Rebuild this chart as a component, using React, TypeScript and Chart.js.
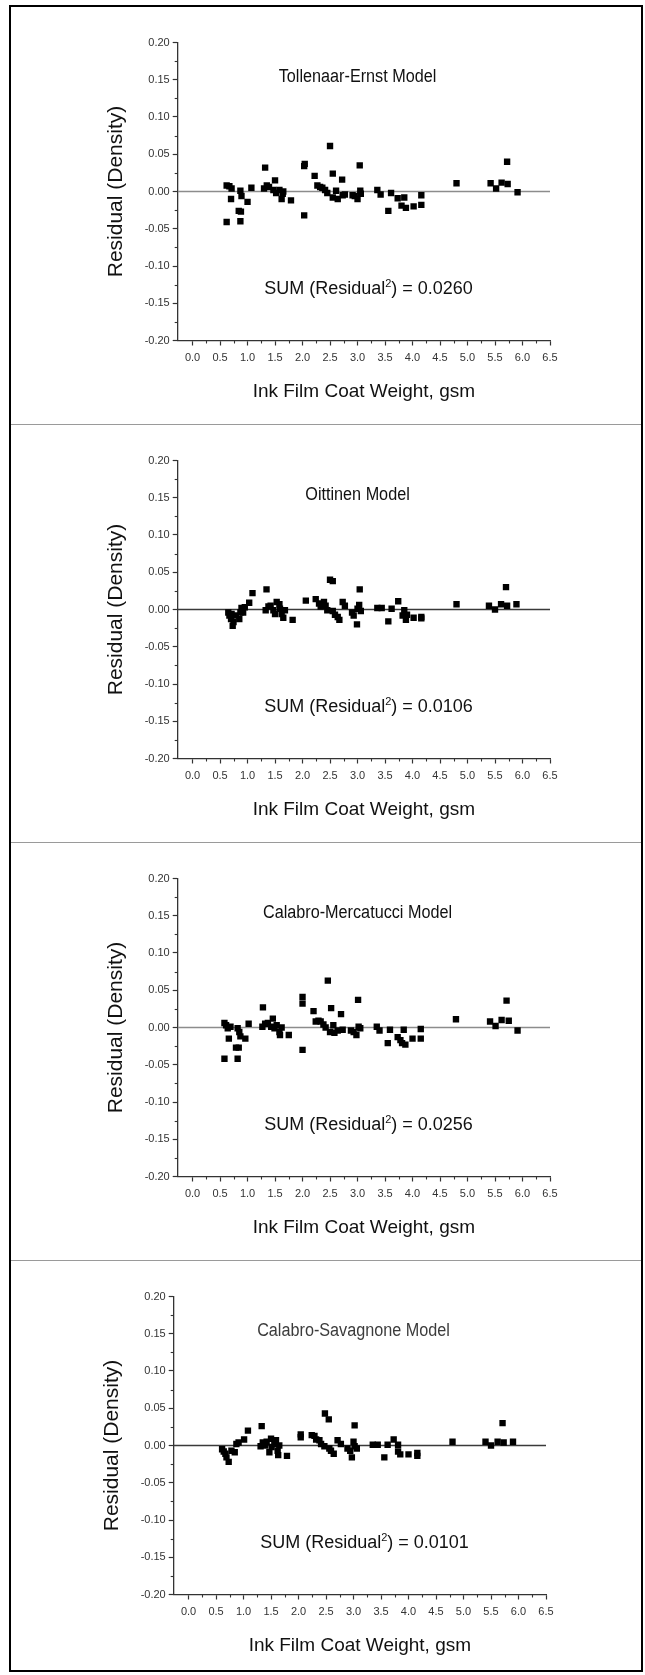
import React, { useEffect, useRef } from "react";
import { Chart, registerables } from "chart.js";

Chart.register(...registerables);

// ---------- text ----------
const panelTitles = [
  "Tollenaar-Ernst Model",
  "Oittinen Model",
  "Calabro-Mercatucci Model",
  "Calabro-Savagnone Model",
];
const sumValues = ["0.0260", "0.0106", "0.0256", "0.0101"];
const xAxisTitle = "Ink Film Coat Weight, gsm";
const yAxisTitle = "Residual (Density)";

// ---------- ticks ----------
const xTickValues = [0, 0.5, 1, 1.5, 2, 2.5, 3, 3.5, 4, 4.5, 5, 5.5, 6, 6.5];
const xMinorTickValues = [0.25, 0.75, 1.25, 1.75, 2.25, 2.75, 3.25, 3.75, 4.25, 4.75, 5.25, 5.75, 6.25];
const yTickValues = [-0.2, -0.15, -0.1, -0.05, 0, 0.05, 0.1, 0.15, 0.2];
const yMinorTickValues = [-0.175, -0.125, -0.075, -0.025, 0.025, 0.075, 0.125, 0.175];
const X_MIN = -0.27;
const X_MAX = 6.5;
const Y_MIN = -0.2;
const Y_MAX = 0.2;

// ---------- data ----------
const tollenaarX = [0.62, 0.67, 0.71, 0.70, 0.62, 0.87, 0.89, 0.84, 0.88, 0.87, 1.00, 1.07, 1.32, 1.30, 1.35, 1.39, 1.50, 1.47, 1.52, 1.58, 1.62, 1.65, 1.64, 1.79, 2.03, 2.04, 2.03, 2.22, 2.27, 2.32, 2.36, 2.41, 2.45, 2.50, 2.55, 2.55, 2.61, 2.64, 2.72, 2.73, 2.77, 2.91, 2.95, 3.00, 3.04, 3.05, 3.06, 3.36, 3.42, 3.56, 3.61, 3.73, 3.80, 3.85, 3.88, 4.02, 4.16, 4.16, 4.80, 5.42, 5.52, 5.62, 5.73, 5.72, 5.91];
const tollenaarY = [0.008, 0.007, 0.004, -0.010, -0.041, 0.001, -0.006, -0.026, -0.027, -0.040, -0.014, 0.005, 0.032, 0.004, 0.008, 0.006, 0.015, 0.002, -0.002, 0.002, -0.010, 0.000, -0.003, -0.012, 0.034, 0.037, -0.032, 0.021, 0.008, 0.006, 0.005, 0.002, -0.002, 0.061, 0.024, -0.008, 0.001, -0.010, 0.016, -0.005, -0.004, -0.005, -0.006, -0.010, 0.035, 0.001, -0.003, 0.002, -0.004, -0.026, -0.002, -0.009, -0.019, -0.008, -0.022, -0.020, -0.005, -0.018, 0.011, 0.011, 0.004, 0.012, 0.010, 0.040, -0.001];

const oittinenX = [0.65, 0.67, 0.70, 0.73, 0.745, 0.71, 0.79, 0.85, 0.87, 0.89, 0.95, 0.92, 1.03, 1.09, 1.345, 1.33, 1.38, 1.42, 1.47, 1.50, 1.53, 1.58, 1.59, 1.62, 1.65, 1.68, 1.82, 2.06, 2.24, 2.30, 2.33, 2.39, 2.42, 2.45, 2.50, 2.55, 2.55, 2.59, 2.64, 2.67, 2.73, 2.77, 2.90, 2.93, 2.99, 3.03, 3.04, 3.06, 3.00, 3.36, 3.44, 3.56, 3.62, 3.74, 3.82, 3.85, 3.88, 3.90, 4.02, 4.16, 4.16, 4.80, 5.39, 5.50, 5.61, 5.70, 5.72, 5.89];
const oittinenY = [-0.004, -0.008, -0.013, -0.022, -0.017, -0.006, -0.008, -0.013, -0.004, 0.002, 0.003, -0.004, 0.009, 0.022, 0.027, -0.001, 0.004, 0.005, -0.001, -0.006, 0.010, 0.007, 0.001, -0.006, -0.011, -0.001, -0.014, 0.012, 0.014, 0.008, 0.004, 0.010, 0.005, -0.001, 0.040, 0.038, -0.002, -0.007, -0.010, -0.014, 0.010, 0.005, -0.004, -0.008, -0.020, 0.006, 0.027, -0.002, 0.001, 0.002, 0.002, -0.016, 0.001, 0.011, -0.008, -0.001, -0.014, -0.007, -0.011, -0.010, -0.012, 0.007, 0.005, 0.000, 0.007, 0.030, 0.005, 0.007];

const mercatucciX = [0.58, 0.61, 0.64, 0.69, 0.66, 0.58, 0.82, 0.85, 0.87, 0.79, 0.84, 0.82, 0.96, 1.02, 1.28, 1.27, 1.32, 1.37, 1.46, 1.43, 1.49, 1.53, 1.58, 1.59, 1.62, 1.75, 2.00, 2.00, 2.00, 2.20, 2.24, 2.29, 2.33, 2.38, 2.42, 2.46, 2.52, 2.50, 2.56, 2.58, 2.64, 2.70, 2.73, 2.88, 2.93, 2.98, 3.01, 3.02, 3.05, 3.35, 3.40, 3.55, 3.59, 3.73, 3.78, 3.81, 3.84, 3.87, 4.00, 4.15, 4.15, 4.79, 5.41, 5.51, 5.62, 5.71, 5.75, 5.91];
const mercatucciY = [0.006, 0.003, -0.001, 0.001, -0.015, -0.042, -0.001, -0.006, -0.012, -0.027, -0.027, -0.042, -0.015, 0.005, 0.027, 0.001, 0.005, 0.006, 0.012, 0.001, -0.001, 0.003, -0.006, -0.010, 0.000, -0.010, 0.041, 0.032, -0.030, 0.022, 0.008, 0.009, 0.008, 0.004, 0.000, 0.063, 0.026, -0.006, 0.003, -0.007, -0.004, 0.018, -0.003, -0.004, -0.006, -0.010, 0.037, 0.001, -0.001, 0.001, -0.004, -0.021, -0.003, -0.013, -0.017, -0.021, -0.003, -0.023, -0.015, -0.002, -0.015, 0.011, 0.008, 0.002, 0.010, 0.036, 0.009, -0.004];

const savagnoneX = [0.61, 0.64, 0.67, 0.69, 0.73, 0.78, 0.84, 0.87, 0.91, 1.01, 1.08, 1.33, 1.31, 1.35, 1.39, 1.42, 1.47, 1.50, 1.51, 1.56, 1.59, 1.62, 1.63, 1.65, 1.79, 2.04, 2.04, 2.24, 2.29, 2.32, 2.38, 2.41, 2.47, 2.48, 2.55, 2.56, 2.59, 2.64, 2.71, 2.77, 2.89, 2.94, 2.97, 3.00, 3.02, 3.02, 3.06, 3.35, 3.44, 3.56, 3.62, 3.73, 3.81, 3.81, 3.85, 4.00, 4.16, 4.16, 4.80, 5.40, 5.50, 5.62, 5.71, 5.73, 5.90];
const savagnoneY = [-0.005, -0.008, -0.011, -0.016, -0.022, -0.007, -0.009, 0.002, 0.004, 0.008, 0.020, 0.026, -0.001, 0.004, 0.000, 0.005, -0.009, 0.009, -0.002, 0.002, 0.007, -0.007, -0.013, 0.000, -0.014, 0.011, 0.015, 0.014, 0.013, 0.008, 0.007, 0.002, -0.001, 0.043, 0.035, -0.004, -0.007, -0.011, 0.007, 0.002, -0.004, -0.007, -0.016, 0.005, 0.027, -0.001, -0.004, 0.001, 0.001, -0.016, 0.001, 0.008, 0.001, -0.008, -0.012, -0.012, -0.010, -0.014, 0.005, 0.005, 0.000, 0.005, 0.030, 0.004, 0.005];

const panelXs = [tollenaarX, oittinenX, mercatucciX, savagnoneX];
const panelYs = [tollenaarY, oittinenY, mercatucciY, savagnoneY];

// ---------- styling / layout ----------
const FONT = '"Liberation Sans", Arial, Helvetica, sans-serif';
const PANEL_H = 418;
const PANEL_TOP0 = 6;
const panelLeftShift = [0, 0, 0, -4];
const zeroLineColors = ["#8c8c8c", "#3a3a3a", "#8c8c8c", "#3a3a3a"];
const titleColors = ["#111111", "#111111", "#111111", "#3c3c3c"];

const minorTicksPlugin = {
  id: "minorTicks",
  afterDraw(chart: any) {
    const { ctx, chartArea } = chart;
    const xs = chart.scales.x;
    const ys = chart.scales.y;
    ctx.save();
    ctx.strokeStyle = "#333";
    ctx.lineWidth = 1.1;
    xMinorTickValues.forEach((v) => {
      const px = Math.round(xs.getPixelForValue(v)) + 0.5;
      ctx.beginPath();
      ctx.moveTo(px, chartArea.bottom);
      ctx.lineTo(px, chartArea.bottom + 3);
      ctx.stroke();
    });
    yMinorTickValues.forEach((v) => {
      const py = Math.round(ys.getPixelForValue(v)) + 0.5;
      ctx.beginPath();
      ctx.moveTo(chartArea.left, py);
      ctx.lineTo(chartArea.left - 3, py);
      ctx.stroke();
    });
    ctx.restore();
  },
};

function makeTextPlugin(idx: number) {
  return {
    id: "panelText" + idx,
    afterDraw(chart: any) {
      const { ctx } = chart;
      const xs = chart.scales.x;
      const ys = chart.scales.y;
      ctx.save();
      // model title (slightly condensed, like the original)
      const tx = xs.getPixelForValue(3.0);
      const ty = ys.getPixelForValue(0.153);
      ctx.save();
      ctx.translate(tx, ty);
      ctx.scale(0.9, 1);
      ctx.font = `18px ${FONT}`;
      ctx.fillStyle = titleColors[idx];
      ctx.textAlign = "center";
      ctx.textBaseline = "middle";
      ctx.fillText(panelTitles[idx], 0, 0);
      ctx.restore();

      // SUM (Residual^2) = value
      const fs = 18;
      const big = `${fs}px ${FONT}`;
      const small = `${Math.round(fs * 0.6)}px ${FONT}`;
      const parts: [string, string, number][] = [
        ["SUM ", big, 0],
        ["(Residual", big, 0],
        ["2", small, -fs * 0.42],
        [") = " + sumValues[idx], big, 0],
      ];
      let total = 0;
      parts.forEach(([t, f]) => {
        ctx.font = f;
        total += ctx.measureText(t).width;
      });
      const cx = xs.getPixelForValue(3.2);
      const cy = ys.getPixelForValue(-0.129);
      let x = cx - total / 2;
      const base = cy + fs * 0.36;
      ctx.textAlign = "left";
      ctx.textBaseline = "alphabetic";
      ctx.fillStyle = "#111111";
      parts.forEach(([t, f, dy]) => {
        ctx.font = f;
        ctx.fillText(t, x, base + dy);
        x += ctx.measureText(t).width;
      });
      ctx.restore();
    },
  };
}

function Panel({ idx }: { idx: number }) {
  const ref = useRef<HTMLCanvasElement | null>(null);
  useEffect(() => {
    if (!ref.current) return;
    const xsArr = panelXs[idx];
    const ysArr = panelYs[idx];
    const points = xsArr.map((x, i) => ({ x, y: ysArr[i] }));
    const chart = new Chart(ref.current, {
      type: "scatter",
      data: {
        datasets: [
          {
            type: "line",
            data: [
              { x: X_MIN, y: 0 },
              { x: X_MAX, y: 0 },
            ],
            borderColor: zeroLineColors[idx],
            borderWidth: 1.6,
            pointRadius: 0,
            fill: false,
            order: 2,
          } as any,
          {
            data: points,
            pointStyle: "rect",
            pointRadius: 4.5,
            pointBorderWidth: 0,
            backgroundColor: "#000",
            borderColor: "#000",
            order: 1,
          },
        ],
      },
      options: {
        responsive: false,
        animation: false,
        devicePixelRatio: 1,
        events: [],
        layout: { padding: { left: 0, right: 95, top: 36.5, bottom: 0 } },
        plugins: {
          legend: { display: false },
          tooltip: { enabled: false },
          title: { display: false },
        },
        scales: {
          x: {
            type: "linear",
            min: X_MIN,
            max: X_MAX,
            afterBuildTicks: (s: any) => {
              s.ticks = xTickValues.map((v) => ({ value: v }));
            },
            afterFit: (s: any) => {
              s.height = 83.5;
            },
            grid: {
              drawOnChartArea: false,
              drawTicks: true,
              tickLength: 5,
              tickColor: "#333",
              tickWidth: 1.2,
            },
            border: { display: true, color: "#333", width: 1.3 },
            ticks: {
              callback: (v: any) => Number(v).toFixed(1),
              font: { family: FONT, size: 11 },
              color: "#333",
              padding: 6,
              maxRotation: 0,
              autoSkip: false,
            },
            title: {
              display: true,
              text: xAxisTitle,
              font: { family: FONT, size: 19 },
              color: "#111111",
              padding: { top: 0, bottom: 20.6 },
            },
          },
          y: {
            type: "linear",
            min: Y_MIN,
            max: Y_MAX,
            afterBuildTicks: (s: any) => {
              s.ticks = yTickValues.map((v) => ({ value: v }));
            },
            afterFit: (s: any) => {
              s.width = 177.7;
            },
            grid: {
              drawOnChartArea: false,
              drawTicks: true,
              tickLength: 5,
              tickColor: "#333",
              tickWidth: 1.2,
            },
            border: { display: true, color: "#333", width: 1.3 },
            ticks: {
              callback: (v: any) => Number(v).toFixed(2),
              font: { family: FONT, size: 11 },
              color: "#333",
              padding: 3,
              autoSkip: false,
            },
            title: {
              display: true,
              text: yAxisTitle,
              font: { family: FONT, size: 21 },
              color: "#111111",
              padding: { top: 103.4, bottom: 0 },
            },
          },
        },
      },
      plugins: [minorTicksPlugin, makeTextPlugin(idx)],
    });
    return () => chart.destroy();
  }, [idx]);
  return (
    <canvas
      ref={ref}
      width={645}
      height={PANEL_H}
      style={{
        position: "absolute",
        left: panelLeftShift[idx],
        top: PANEL_TOP0 + PANEL_H * idx,
        width: 645,
        height: PANEL_H,
      }}
    />
  );
}

export default function App() {
  return (
    <div
      style={{
        position: "absolute",
        left: 0,
        top: 0,
        width: 645,
        height: 1675,
        overflow: "hidden",
        background: "#fff",
      }}
    >
      <div
        style={{
          position: "absolute",
          left: 9,
          top: 5,
          width: 634,
          height: 1667,
          border: "2px solid #000",
          boxSizing: "border-box",
        }}
      />
      {[1, 2, 3].map((k) => (
        <div
          key={k}
          style={{
            position: "absolute",
            left: 11,
            width: 630,
            top: PANEL_TOP0 + PANEL_H * k,
            height: 1,
            background: "#9a9a9a",
          }}
        />
      ))}
      {[0, 1, 2, 3].map((i) => (
        <Panel key={i} idx={i} />
      ))}
    </div>
  );
}
